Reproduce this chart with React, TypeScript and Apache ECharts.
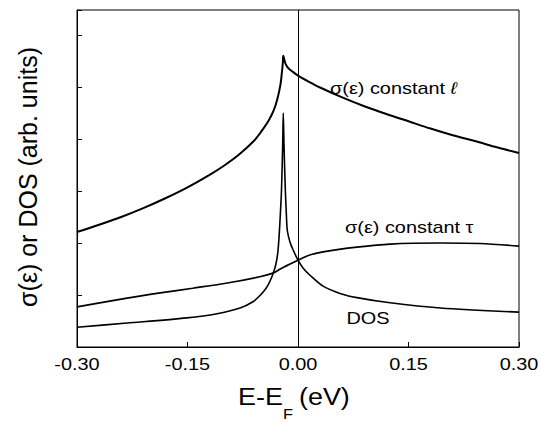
import React, { useEffect, useRef } from "react";
import * as echarts from "echarts";

const xTicks = [-0.3, -0.15, 0, 0.15, 0.3];

const sigmaL: [number, number][] = [
  [-0.3, 2.21], [-0.27, 2.35], [-0.24, 2.5], [-0.21, 2.67], [-0.18, 2.86],
  [-0.15, 3.07], [-0.12, 3.31], [-0.1, 3.49], [-0.08, 3.7], [-0.06, 3.96],
  [-0.05, 4.14], [-0.04, 4.35], [-0.033, 4.55], [-0.028, 4.77], [-0.024, 5.03],
  [-0.022, 5.26], [-0.0205, 5.48], [-0.02, 5.6], [-0.017, 5.45], [-0.013, 5.36],
  [-0.007, 5.29], [0, 5.22], [0.015, 5.1], [0.03, 4.99], [0.06, 4.8],
  [0.09, 4.63], [0.12, 4.48], [0.15, 4.34], [0.18, 4.2], [0.21, 4.07],
  [0.24, 3.96], [0.27, 3.84], [0.3, 3.73],
];

const sigmaTau: [number, number][] = [
  [-0.3, 0.77], [-0.232, 0.94], [-0.187, 1.04], [-0.143, 1.13], [-0.096, 1.23],
  [-0.052, 1.35], [-0.034, 1.42], [-0.024, 1.5], [-0.016, 1.56], [0, 1.67],
  [0.016, 1.77], [0.034, 1.83], [0.08, 1.92], [0.125, 1.98], [0.193, 2.0],
  [0.247, 1.99], [0.3, 1.94],
];

const dos: [number, number][] = [
  [-0.3, 0.38], [-0.232, 0.46], [-0.151, 0.56], [-0.11, 0.64], [-0.0787, 0.75],
  [-0.0611, 0.87], [-0.0516, 0.99], [-0.0448, 1.1], [-0.04, 1.21], [-0.0357, 1.34],
  [-0.0326, 1.46], [-0.0299, 1.6], [-0.0278, 1.77], [-0.0265, 1.96], [-0.0254, 2.19],
  [-0.0238, 2.6], [-0.0224, 3.02], [-0.0208, 3.88], [-0.02, 4.5], [-0.019, 3.88],
  [-0.0172, 3.02], [-0.016, 2.62], [-0.0145, 2.24], [-0.0109, 2.02], [-0.0064, 1.86],
  [0, 1.67], [0.0068, 1.52], [0.0163, 1.38], [0.034, 1.17], [0.057, 1.03],
  [0.08, 0.95], [0.125, 0.85], [0.193, 0.75], [0.3, 0.67],
];

const FONT = "'Liberation Sans', Arial, sans-serif";
const SX = 1.17;

export default function App() {
  const ref = useRef<HTMLDivElement>(null);
  useEffect(() => {
    if (!ref.current) return;
    const chart = echarts.init(ref.current, null, { renderer: "svg" });
    const lineSeries = (data: [number, number][], width: number, extra: any = {}) => ({
      type: "line",
      data,
      showSymbol: false,
      symbol: "none",
      smooth: 0.3,
      lineStyle: { color: "#000", width },
      silent: true,
      ...extra,
    });
    chart.setOption({
      animation: false,
      backgroundColor: "#fff",
      grid: { left: 77, right: 21, top: 10, bottom: 75, show: true, borderColor: "#000", borderWidth: 1 },
      xAxis: {
        type: "value",
        min: -0.3,
        max: 0.3,
        interval: 0.15,
        axisLine: { onZero: false, lineStyle: { color: "#000", width: 1 } },
        axisTick: { inside: true, length: 5, lineStyle: { color: "#000" } },
        splitLine: { show: false },
        axisLabel: { show: false },
      },
      yAxis: {
        type: "value",
        min: 0,
        max: 6.48,
        interval: 1,
        axisLine: { show: true, onZero: false, lineStyle: { color: "#000", width: 1 } },
        axisTick: { show: true, inside: true, length: 5, lineStyle: { color: "#000" } },
        axisLabel: { show: false },
        splitLine: { show: false },
      },
      series: [
        lineSeries(sigmaL, 2, {
          markLine: {
            silent: true,
            symbol: "none",
            label: { show: false },
            lineStyle: { color: "#000", width: 1, type: "solid" },
            data: [{ xAxis: 0 }],
          },
        }),
        lineSeries(sigmaTau, 1.7),
        lineSeries(dos, 1.6, { smooth: 0.3 }),
      ],
    });

    const tickLabels = xTicks.map((v) => {
      const px = chart.convertToPixel({ xAxisIndex: 0 }, v) as number;
      return {
        type: "text",
        x: px,
        y: 364,
        scaleX: SX,
        style: {
          text: v.toFixed(2),
          font: `17px ${FONT}`,
          fill: "#000",
          align: "center",
          verticalAlign: "middle",
        },
      };
    });

    const label = (text: string, x: number, y: number, size = 17, extra: any = {}) => ({
      type: "text",
      x,
      y,
      scaleX: SX,
      style: { text, font: `${size}px ${FONT}`, fill: "#000", verticalAlign: "middle", ...extra },
    });

    chart.setOption({
      graphic: [
        ...tickLabels,
        {
          type: "text",
          x: 330,
          y: 88,
          scaleX: SX,
          style: {
            text: "{a|σ(ε) constant }{b|ℓ}",
            verticalAlign: "middle",
            rich: {
              a: { font: `17px ${FONT}`, fill: "#000" },
              b: { font: `italic 17px ${FONT}`, fill: "#000" },
            },
          },
        },
        label("σ(ε) constant τ", 345, 227),
        label("DOS", 346.5, 318),
        label("E-E", 238, 397, 23),
        label("F", 283, 414, 14),
        label("(eV)", 299, 397, 23),
        {
          type: "text",
          x: 28,
          y: 177,
          rotation: Math.PI / 2,
          style: {
            text: "σ(ε) or DOS (arb. units)",
            font: `25px ${FONT}`,
            fill: "#000",
            align: "center",
            verticalAlign: "middle",
          },
        },
      ],
    });
    return () => chart.dispose();
  }, []);
  return (
    <div
      ref={ref}
      style={{ position: "absolute", left: 0, top: 0, width: 540, height: 422 }}
    />
  );
}
